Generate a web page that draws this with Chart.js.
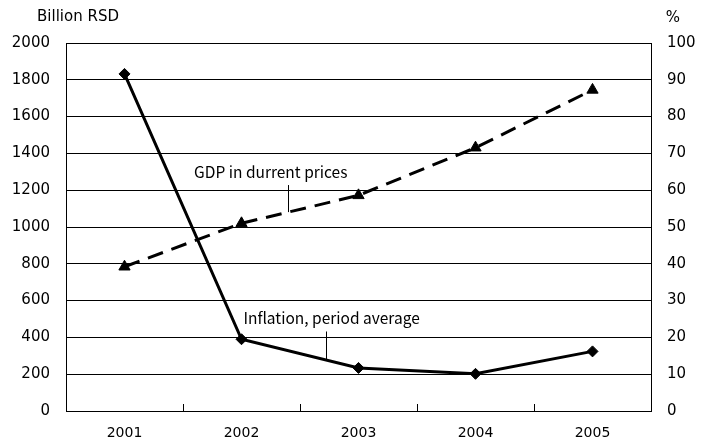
<!DOCTYPE html>
<html>
<head>
<meta charset="utf-8">
<script src="https://cdn.jsdelivr.net/npm/chart.js@4/dist/chart.umd.min.js"></script>
<style>
  html, body { margin: 0; padding: 0; background: #fff; }
  #chart { display: block; }
</style>
</head>
<body>
<canvas id="chart" width="707" height="445"></canvas>
<script>
// data
const years = ['2001', '2002', '2003', '2004', '2005'];
const gdpValues = [784, 1020, 1172, 1431, 1745];          // billion RSD, left axis
const inflationValues = [91.6, 19.5, 11.7, 10.1, 16.2];   // %, right axis

const leftAxisMax = 2000;
const leftAxisStep = 200;
const rightAxisMax = 100;
const rightAxisStep = 10;

const leftAxisTitle = 'Billion RSD';
const rightAxisTitle = '%';

// callout labels: text, anchor (category index, axis value), leader line from/to
const gdpNote = { text: 'GDP in durrent prices', x: 1.25, y: 1300, lineX: 1.40, lineFrom: 1228, lineTo: 1081 };
const inflationNote = { text: 'Inflation, period average', x: 1.77, y: 25.3, lineX: 1.72, lineFrom: 21.6, lineTo: 13.9 };

const TICK_FONT = '"DejaVu Sans", sans-serif';
const NOTE_FONT = '"Noto Sans CJK JP", "Noto Sans", sans-serif';

const notesPlugin = {
  id: 'notes',
  afterDatasetsDraw(chart) {
    const { ctx, chartArea, scales } = chart;
    const xs = scales.x, yl = scales.y, yr = scales.y1;
    ctx.save();
    ctx.fillStyle = '#000';
    ctx.strokeStyle = '#000';
    ctx.lineWidth = 1;
    ctx.textBaseline = 'middle';
    ctx.textAlign = 'center';

    // axis titles
    ctx.font = '15px ' + TICK_FONT;
    ctx.fillText(leftAxisTitle, chartArea.left + 12, chartArea.top - 26);
    ctx.fillText(rightAxisTitle, chartArea.right + 22, chartArea.top - 25);

    // callouts
    ctx.font = '15.5px ' + NOTE_FONT;
    const drawNote = (note, yScale) => {
      ctx.fillText(note.text, xs.getPixelForValue(note.x), yScale.getPixelForValue(note.y));
      const lx = Math.round(xs.getPixelForValue(note.lineX)) + 0.5;
      ctx.beginPath();
      ctx.moveTo(lx, yScale.getPixelForValue(note.lineFrom));
      ctx.lineTo(lx, yScale.getPixelForValue(note.lineTo));
      ctx.stroke();
    };
    drawNote(gdpNote, yl);
    drawNote(inflationNote, yr);
    ctx.restore();
  }
};

Chart.defaults.font.family = TICK_FONT;
Chart.defaults.color = '#000';

new Chart(document.getElementById('chart'), {
  type: 'line',
  data: {
    labels: years,
    datasets: [
      {
        label: 'Inflation, period average',
        data: inflationValues,
        yAxisID: 'y1',
        borderColor: '#000',
        backgroundColor: '#000',
        borderWidth: 3,
        pointStyle: 'rectRot',
        pointRadius: 5.5,
        pointBorderWidth: 1,
        tension: 0
      },
      {
        label: 'GDP in current prices',
        data: gdpValues,
        yAxisID: 'y',
        borderColor: '#000',
        backgroundColor: '#000',
        borderWidth: 3,
        borderDash: [16, 9],
        pointStyle: 'triangle',
        pointRadius: 6.5,
        pointBorderWidth: 1,
        tension: 0
      }
    ]
  },
  options: {
    responsive: false,
    animation: false,
    layout: { padding: { top: 43, left: 0, right: 0, bottom: 0 } },
    plugins: {
      legend: { display: false },
      tooltip: { enabled: false }
    },
    scales: {
      x: {
        offset: true,
        grid: {
          offset: true,
          drawOnChartArea: false,
          drawTicks: true,
          tickLength: -7,
          color: '#000'
        },
        border: { color: '#000', width: 1 },
        ticks: { padding: 21, font: { size: 14 }, maxRotation: 0 },
        afterFit(scale) { scale.height = 34; }
      },
      y: {
        position: 'left',
        min: 0,
        max: leftAxisMax,
        ticks: { stepSize: leftAxisStep, padding: 16, font: { size: 15 }, callback: v => String(v) },
        grid: { color: '#000', drawTicks: false, lineWidth: 1 },
        border: { color: '#000', width: 1 },
        afterFit(scale) { scale.width = 66; }
      },
      y1: {
        position: 'right',
        min: 0,
        max: rightAxisMax,
        ticks: { stepSize: rightAxisStep, padding: 16, font: { size: 15 }, callback: v => String(v) },
        grid: { display: true, drawOnChartArea: false, drawTicks: false },
        border: { color: '#000', width: 1 },
        afterFit(scale) { scale.width = 56; }
      }
    }
  },
  plugins: [notesPlugin]
});
</script>
</body>
</html>
